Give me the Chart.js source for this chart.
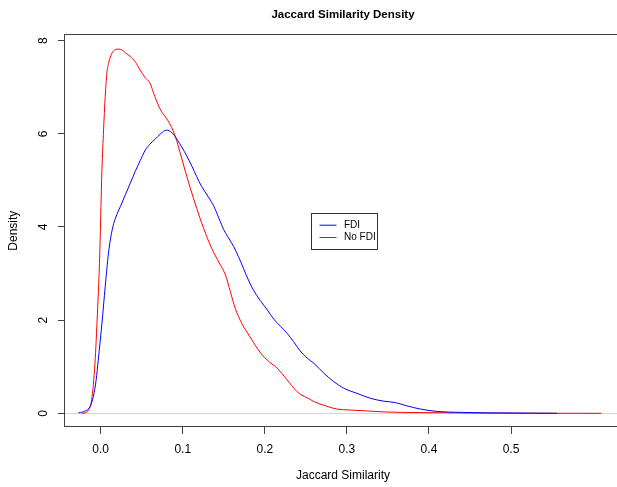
<!DOCTYPE html>
<html><head><meta charset="utf-8">
<script src="https://cdn.jsdelivr.net/npm/chart.js@4.4.1/dist/chart.umd.min.js"></script>
<style>
html,body{margin:0;padding:0;overflow:hidden;background:#fff;width:617px;height:487px}
#wrap{position:relative;width:685px;height:487px}
</style></head>
<body><div id="wrap"><canvas id="c" width="685" height="487"></canvas></div>
<script>
// ---- data ----
const seriesNames = ['FDI', 'No FDI'];
const seriesColors = ['#0000ff', '#ff0000'];

const xFDI = [-0.027,-0.019,-0.013,-0.009,-0.0055,-0.003,0.0015,0.0055,0.0095,0.014,0.018,0.024,0.030,0.036,0.042,0.048,0.054,0.060,0.066,0.073,0.080,0.087,0.093,0.099,0.105,0.111,0.117,0.123,0.131,0.138,0.144,0.150,0.156,0.162,0.168,0.174,0.180,0.186,0.194,0.203,0.211,0.219,0.227,0.235,0.243,0.252,0.260,0.272,0.284,0.296,0.312,0.329,0.345,0.359,0.373,0.390,0.410,0.438,0.467,0.508,0.556];
const yFDI = [0.01,0.05,0.14,0.36,0.72,1.14,1.93,2.72,3.44,3.94,4.19,4.44,4.69,4.94,5.19,5.42,5.64,5.78,5.88,6.00,6.08,6.02,5.88,5.71,5.52,5.31,5.08,4.87,4.65,4.44,4.19,3.94,3.76,3.58,3.36,3.11,2.86,2.65,2.43,2.22,2.02,1.87,1.72,1.54,1.34,1.18,1.07,0.86,0.68,0.54,0.43,0.32,0.26,0.23,0.16,0.09,0.04,0.02,0.01,0.005,0];

const xNoFDI = [-0.023,-0.019,-0.015,-0.011,-0.007,-0.004,-0.0015,0.0015,0.0035,0.0055,0.0075,0.0095,0.014,0.018,0.022,0.026,0.030,0.036,0.042,0.048,0.054,0.060,0.066,0.073,0.079,0.085,0.091,0.097,0.105,0.113,0.121,0.130,0.138,0.146,0.152,0.158,0.164,0.172,0.182,0.195,0.205,0.215,0.227,0.239,0.245,0.252,0.260,0.274,0.288,0.304,0.325,0.345,0.365,0.405,0.466,0.520,0.610];
const yNoFDI = [0,0.01,0.07,0.29,1.07,2.15,3.22,5.22,6.08,6.80,7.30,7.51,7.74,7.81,7.82,7.80,7.74,7.66,7.55,7.37,7.21,7.09,6.80,6.51,6.36,6.19,5.94,5.58,5.08,4.62,4.19,3.76,3.44,3.18,2.97,2.61,2.25,1.93,1.64,1.29,1.11,0.97,0.72,0.47,0.39,0.33,0.25,0.16,0.09,0.07,0.05,0.03,0.02,0.013,0.006,0.002,0];

const xTicks = [0, 0.1, 0.2, 0.3, 0.4, 0.5];
const xTickLabels = ['0.0', '0.1', '0.2', '0.3', '0.4', '0.5'];
const yTicks = [0, 2, 4, 6, 8];
const yTickLabels = ['0', '2', '4', '6', '8'];
const xRange = [-0.0435, 0.634];
const yRange = [-0.294, 8.137];
const legendAnchor = [0.2559, 4.294];

const FONT = '"Liberation Sans", Arial, Helvetica, sans-serif';
const AXIS = '#404040';

function pts(xs, ys){ return xs.map((x,i)=>({x:x, y:ys[i]})); }

const rPlot = {
  id: 'rPlot',
  beforeDatasetsDraw(chart){
    const {ctx, chartArea:a, scales} = chart;
    const y0 = Math.round(scales.y.getPixelForValue(0)) + 0.5;
    ctx.save();
    ctx.strokeStyle = '#d4d4d4'; ctx.lineWidth = 1;
    ctx.beginPath(); ctx.moveTo(a.left, y0); ctx.lineTo(a.right, y0); ctx.stroke();
    ctx.restore();
  },
  afterDraw(chart){
    const {ctx, chartArea:a, scales} = chart;
    ctx.save();
    // box
    ctx.strokeStyle = AXIS; ctx.lineWidth = 1;
    ctx.strokeRect(Math.round(a.left)-0.5, Math.round(a.top)+0.5, Math.round(a.right-a.left), Math.round(a.bottom-a.top)-1);
    // rotated y tick labels
    ctx.fillStyle = '#000';
    ctx.font = '12px ' + FONT;
    ctx.textAlign = 'center'; ctx.textBaseline = 'alphabetic';
    yTicks.forEach((v,i)=>{
      const py = scales.y.getPixelForValue(v);
      ctx.save(); ctx.translate(47, py); ctx.rotate(-Math.PI/2);
      ctx.fillText(yTickLabels[i], 0, 0); ctx.restore();
    });
    // legend
    const lx = Math.round(scales.x.getPixelForValue(legendAnchor[0])) + 0.5;
    const ly = Math.round(scales.y.getPixelForValue(legendAnchor[1])) + 0.5;
    ctx.strokeStyle = '#333'; ctx.lineWidth = 1;
    ctx.strokeRect(lx, ly, 66, 36);
    ctx.font = '10px ' + FONT; ctx.textAlign = 'left'; ctx.textBaseline = 'middle';
    seriesNames.forEach((n,i)=>{
      const yy = ly + 11.7 + i*12.3;
      ctx.strokeStyle = seriesColors[i];
      ctx.beginPath(); ctx.moveTo(lx+8, yy); ctx.lineTo(lx+25, yy); ctx.stroke();
      ctx.fillStyle = '#000';
      ctx.fillText(n, lx + 32.5, yy);
    });
    ctx.restore();
  }
};

new Chart(document.getElementById('c'), {
  type: 'scatter',
  data: {
    datasets: [
      {label: seriesNames[0], data: pts(xFDI, yFDI), borderColor: seriesColors[0], backgroundColor: seriesColors[0], showLine: true, pointRadius: 0, borderWidth: 1, cubicInterpolationMode: 'monotone', fill: false},
      {label: seriesNames[1], data: pts(xNoFDI, yNoFDI), borderColor: seriesColors[1], backgroundColor: seriesColors[1], showLine: true, pointRadius: 0, borderWidth: 1, cubicInterpolationMode: 'monotone', fill: false}
    ]
  },
  options: {
    responsive: false, animation: false, devicePixelRatio: 1,
    layout: {padding: {left: 0, top: 0, right: 64, bottom: 0}},
    plugins: {
      legend: {display: false}, tooltip: {enabled: false},
      title: {display: true, fullSize: false, text: 'Jaccard Similarity Density', color: '#000',
        font: {family: FONT, size: 11.5, weight: 'bold', lineHeight: 1.2},
        padding: {top: 7.6, bottom: 12.9}}
    },
    scales: {
      x: {
        type: 'linear', min: xRange[0], max: xRange[1],
        afterBuildTicks: s => { s.ticks = xTicks.map(v => ({value: v})); },
        afterFit: s => { s.height = 60; },
        ticks: {color: '#000', font: {family: FONT, size: 12}, padding: 8, maxRotation: 0, autoSkip: false,
          callback: v => xTickLabels[xTicks.indexOf(v)]},
        grid: {display: true, drawOnChartArea: false, drawTicks: true, tickLength: 7, color: AXIS, lineWidth: 1},
        border: {display: false},
        title: {display: true, text: 'Jaccard Similarity', color: '#000', font: {family: FONT, size: 12, lineHeight: 1.2}, padding: {top: 3.8, bottom: 3.8}}
      },
      y: {
        type: 'linear', min: yRange[0], max: yRange[1],
        afterBuildTicks: s => { s.ticks = yTicks.map(v => ({value: v})); },
        afterFit: s => { s.width = 65; },
        ticks: {display: false},
        grid: {display: true, drawOnChartArea: false, drawTicks: true, tickLength: 7, color: AXIS, lineWidth: 1},
        border: {display: false},
        title: {display: true, text: 'Density', color: '#000', font: {family: FONT, size: 12, lineHeight: 1.2}, padding: {top: 6.8, bottom: 6.8}}
      }
    }
  },
  plugins: [rPlot]
});
</script>
</body></html>
